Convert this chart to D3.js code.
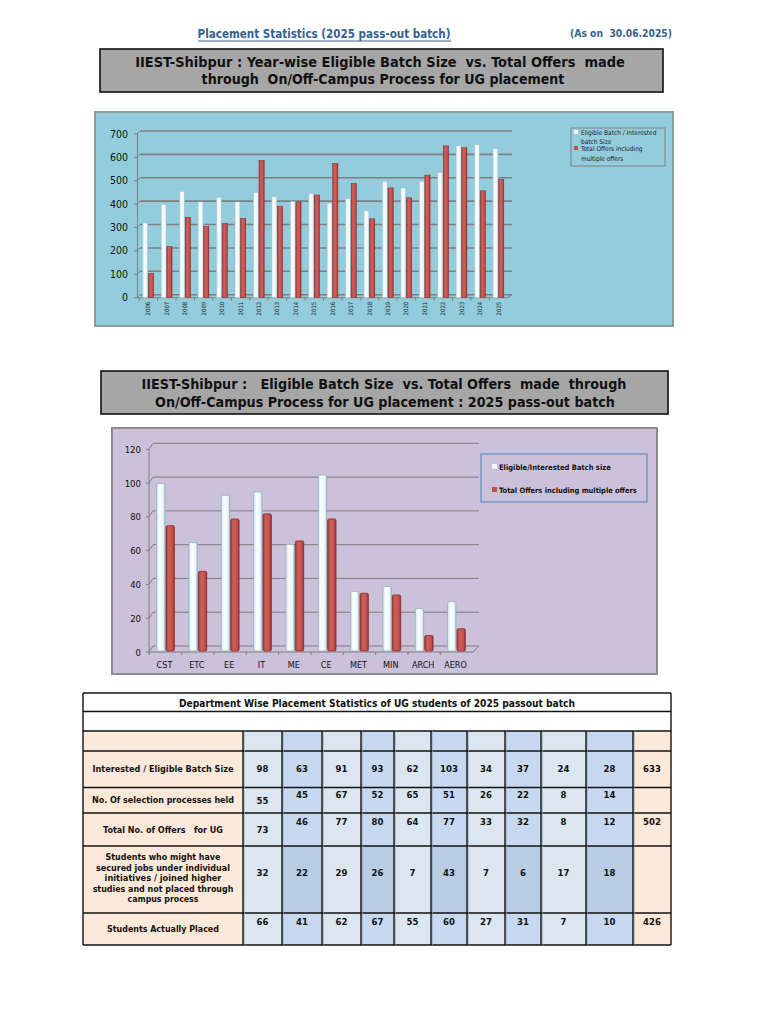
<!DOCTYPE html>
<html><head><meta charset="utf-8">
<script src="https://cdn.jsdelivr.net/npm/d3@7"></script>
<style>html,body{margin:0;padding:0;background:#fff;} text{white-space:pre;}</style>
</head><body>
<svg id="c" width="768" height="1024"></svg>
<script>
// ---------------- DATA ----------------
const years = ["2006","2007","2008","2009","2010","2011","2012","2013","2014","2015","2016","2017","2018","2019","2020","2021","2022","2023","2024","2025"];
const batchSizeByYear = [315,395,450,405,425,405,445,427,407,442,400,420,368,493,465,493,530,645,650,633];
const offersByYear    = [100,215,340,300,313,335,583,387,405,435,570,485,333,465,423,520,645,637,453,502];
const yearTicks = [0,100,200,300,400,500,600,700];

const departments = ["CST","ETC","EE","IT","ME","CE","MET","MIN","ARCH","AERO"];
const batchSize = [98,63,91,93,62,103,34,37,24,28];
const selectionProcesses = [55,45,67,52,65,51,26,22,8,14];
const totalOffers = [73,46,77,80,64,77,33,32,8,12];
const individualInitiatives = [32,22,29,26,7,43,7,6,17,18];
const actuallyPlaced = [66,41,62,67,55,60,27,31,7,10];
const rowTotals = [633, null, 502, null, 426];
const deptTicks = [0,20,40,60,80,100,120];

const rowLabels = [
  ["Interested / Eligible Batch Size"],
  ["No. Of selection processes held"],
  ["Total No. of Offers   for UG"],
  ["Students who might have","secured jobs under individual","initiatives / joined higher","studies and not placed through","campus process"],
  ["Students Actually Placed"]
];
const rowValues = [batchSize, selectionProcesses, totalOffers, individualInitiatives, actuallyPlaced];

// ---------------- HELPERS ----------------
const FONT = "Tahoma, 'DejaVu Sans Condensed', 'DejaVu Sans', sans-serif";
const svg = d3.select("#c");
function fit(sel, w){
  const L = sel.node().getComputedTextLength();
  const fs = parseFloat(sel.attr("font-size"));
  if (L>0) sel.attr("font-size", (fs*w/L).toFixed(2));
  return sel;
}
function txt(g, s, x, y, fs, opts={}){
  const t = g.append("text").attr("x",x).attr("y",y).attr("font-size",fs)
    .attr("font-family", opts.family||FONT)
    .attr("font-weight", opts.weight||"bold")
    .attr("fill", opts.fill||"#111")
    .attr("text-anchor", opts.anchor||"middle").text(s);
  if (opts.w) fit(t, opts.w);
  return t;
}
const defs = svg.append("defs");
function grad(id, stops){
  const g = defs.append("linearGradient").attr("id",id).attr("x1","0").attr("x2","1").attr("y1","0").attr("y2","0");
  stops.forEach(([o,c])=>g.append("stop").attr("offset",o).attr("stop-color",c));
}
grad("gW", [[0,"#cfe6ec"],[0.35,"#ffffff"],[0.8,"#e6f6fa"],[1,"#a9cdd5"]]);
grad("gR", [[0,"#a33a37"],[0.35,"#d0605c"],[0.8,"#c0504d"],[1,"#8a2b29"]]);

// ---------------- HEADER ----------------
txt(svg, "Placement Statistics (2025 pass-out batch)", 324, 38, 13, {fill:"#365f91", w:253});
svg.append("line").attr("x1",198).attr("x2",451).attr("y1",41).attr("y2",41).attr("stroke","#365f91").attr("stroke-width",1);
txt(svg, "(As on  30.06.2025)", 621, 37, 10, {fill:"#365f91", w:102});

function headerBox(x, y, w, h, lines){
  svg.append("rect").attr("x",x).attr("y",y).attr("width",w).attr("height",h)
    .attr("fill","#a6a6a6").attr("stroke","#111").attr("stroke-width",1.6);
  lines.forEach(l => txt(svg, l.s, l.cx, l.y, 14, {w:l.w}));
}
headerBox(100, 49, 563, 43, [
  {s:"IIEST-Shibpur : Year-wise Eligible Batch Size  vs. Total Offers  made", cx:380, y:67, w:490},
  {s:"through  On/Off-Campus Process for UG placement", cx:383, y:84, w:363}
]);
headerBox(101, 371, 567, 43, [
  {s:"IIEST-Shibpur :   Eligible Batch Size  vs. Total Offers  made  through", cx:384, y:389, w:485},
  {s:"On/Off-Campus Process for UG placement : 2025 pass-out batch", cx:385, y:407, w:460}
]);

// ---------------- CHART 1 ----------------
(function(){
  const g = svg.append("g");
  g.append("rect").attr("x",95).attr("y",112).attr("width",578).attr("height",214)
    .attr("fill","#93cddd").attr("stroke","#8c9ca0").attr("stroke-width",2);
  const y = d3.scaleLinear().domain([0,700]).range([294.7,131]);
  const x = d3.scaleBand().domain(years).range([139,508]).paddingInner(0.38).paddingOuter(0.2);
  const depth = 3;
  g.selectAll(".gl").data(yearTicks).join("line")
    .attr("x1",140).attr("x2",512).attr("y1",d=>y(d)).attr("y2",d=>y(d))
    .attr("stroke","#7f7f7f").attr("stroke-width",1.6);
  g.selectAll(".dg").data(yearTicks).join("line")
    .attr("x1",137).attr("x2",140).attr("y1",d=>y(d)+depth).attr("y2",d=>y(d))
    .attr("stroke","#7f7f7f").attr("stroke-width",1);
  g.append("line").attr("x1",137.5).attr("x2",137.5).attr("y1",y(700)+depth).attr("y2",y(0)+depth).attr("stroke","#7f7f7f");
  g.selectAll(".yt").data(yearTicks).join("line")
    .attr("x1",134).attr("x2",137.5).attr("y1",d=>y(d)+depth).attr("y2",d=>y(d)+depth).attr("stroke","#7f7f7f");
  g.selectAll(".yl").data(yearTicks).join("text")
    .attr("x",128).attr("y",d=>y(d)+depth+3.5).attr("text-anchor","end")
    .attr("font-family",FONT).attr("font-size",10.5).attr("fill","#111").text(d=>d);
  g.append("line").attr("x1",137.5).attr("x2",508).attr("y1",y(0)+depth).attr("y2",y(0)+depth).attr("stroke","#7f7f7f");
  g.append("line").attr("x1",508).attr("x2",512).attr("y1",y(0)+depth).attr("y2",y(0)).attr("stroke","#7f7f7f");
  g.selectAll(".xt").data(years).join("line")
    .attr("x1",d=>x(d)-x.step()*x.paddingInner()/2).attr("x2",d=>x(d)-x.step()*x.paddingInner()/2)
    .attr("y1",y(0)+depth).attr("y2",y(0)+depth+3).attr("stroke","#7f7f7f");
  g.selectAll(".xl").data(years).join("text")
    .attr("transform",d=>`translate(${x(d)+x.bandwidth()/2+2},${y(0)+7}) rotate(-90)`)
    .attr("text-anchor","end").attr("font-family",FONT).attr("font-size",6).attr("fill","#222").text(d=>d);
  const bw = x.bandwidth()/2;
  const bars = [
    {vals:batchSizeByYear, off:0, fill:"url(#gW)", stroke:"#9cc0c8"},
    {vals:offersByYear, off:bw, fill:"url(#gR)", stroke:"#8a2b29"}
  ];
  bars.forEach(s=>{
    g.selectAll(null).data(years).join("rect")
      .attr("x",(d,i)=>x(d)+s.off).attr("y",(d,i)=>y(s.vals[i])+2)
      .attr("width",bw-0.5).attr("height",(d,i)=>y(0)+depth-2-y(s.vals[i]))
      .attr("fill",s.fill).attr("stroke",s.stroke).attr("stroke-width",0.5);
  });
  const lg = g.append("g");
  lg.append("rect").attr("x",571).attr("y",128).attr("width",94).attr("height",38)
    .attr("fill","#93cddd").attr("stroke","#808080").attr("stroke-width",1);
  lg.append("rect").attr("x",574).attr("y",130).attr("width",4).attr("height",4).attr("fill","#ffffff");
  lg.append("rect").attr("x",574).attr("y",146).attr("width",4).attr("height",4).attr("fill","#c0504d");
  const lt = [["Eligible Batch / Interested",135],["batch Size",144],["Total Offers including",151],["multiple offers",161]];
  lt.forEach(([s,yy])=>g.append("text").attr("x",581).attr("y",yy).attr("font-family",FONT)
    .attr("font-size",6.5).attr("fill","#222").text(s));
})();

// ---------------- CHART 2 ----------------
(function(){
  const g = svg.append("g");
  g.append("rect").attr("x",112).attr("y",428).attr("width",545).attr("height",246)
    .attr("fill","#ccc1da").attr("stroke","#8c8c8c").attr("stroke-width",2);
  const y = d3.scaleLinear().domain([0,120]).range([646,443.3]);
  const x = d3.scaleBand().domain(departments).range([149,473]).paddingInner(0.42).paddingOuter(0.22);
  const depth = 6;
  g.selectAll(".gl").data(deptTicks).join("line")
    .attr("x1",153).attr("x2",479).attr("y1",d=>y(d)).attr("y2",d=>y(d))
    .attr("stroke","#7f7f7f").attr("stroke-width",1);
  g.selectAll(".dg").data(deptTicks).join("line")
    .attr("x1",149).attr("x2",153).attr("y1",d=>y(d)+depth).attr("y2",d=>y(d))
    .attr("stroke","#7f7f7f").attr("stroke-width",1);
  g.append("line").attr("x1",149).attr("x2",149).attr("y1",y(120)+depth).attr("y2",y(0)+depth).attr("stroke","#7f7f7f");
  g.selectAll(".yt").data(deptTicks).join("line")
    .attr("x1",146).attr("x2",149).attr("y1",d=>y(d)+depth).attr("y2",d=>y(d)+depth).attr("stroke","#7f7f7f");
  g.selectAll(".yl").data(deptTicks).join("text")
    .attr("x",141).attr("y",d=>y(d)+depth+3.5).attr("text-anchor","end")
    .attr("font-family",FONT).attr("font-size",9.5).attr("fill","#111").text(d=>d);
  g.append("line").attr("x1",149).attr("x2",473).attr("y1",y(0)+depth).attr("y2",y(0)+depth).attr("stroke","#7f7f7f");
  g.append("line").attr("x1",473).attr("x2",479).attr("y1",y(0)+depth).attr("y2",y(0)).attr("stroke","#7f7f7f");
  const stepEdges = departments.map(d=>x(d)-x.step()*x.paddingInner()/2);
  g.selectAll(".xt").data(stepEdges).join("line")
    .attr("x1",d=>d).attr("x2",d=>d).attr("y1",y(0)+depth).attr("y2",y(0)+depth+3).attr("stroke","#7f7f7f");
  g.selectAll(".xl").data(departments).join("text")
    .attr("x",d=>x(d)+x.bandwidth()/2-1).attr("y",668).attr("text-anchor","middle")
    .attr("font-family",FONT).attr("font-size",9).attr("fill","#111").text(d=>d);
  const bw = x.bandwidth()/2;
  const bars = [
    {vals:batchSize, off:0, fill:"url(#gW)", stroke:"#8fb4bb"},
    {vals:totalOffers, off:bw, fill:"url(#gR)", stroke:"#8a2b29"}
  ];
  bars.forEach(s=>{
    g.selectAll(null).data(departments).join("rect")
      .attr("x",(d,i)=>x(d)+s.off+0.5).attr("y",(d,i)=>y(s.vals[i])+3)
      .attr("width",bw-1).attr("height",(d,i)=>y(0)+depth-4-y(s.vals[i]))
      .attr("rx",1.5)
      .attr("fill",s.fill).attr("stroke",s.stroke).attr("stroke-width",0.8);
  });
  const lg = g.append("g");
  lg.append("rect").attr("x",481).attr("y",454).attr("width",166).attr("height",48)
    .attr("fill","#ccc1da").attr("stroke","#4f81bd").attr("stroke-width",1);
  lg.append("rect").attr("x",492).attr("y",464).attr("width",5).attr("height",5).attr("fill","#e8f6fa");
  lg.append("rect").attr("x",492).attr("y",487).attr("width",5).attr("height",5).attr("fill","#c0504d");
  txt(lg, "Eligible/Interested Batch size", 499, 469.5, 7.5, {anchor:"start", w:112});
  txt(lg, "Total Offers including multiple offers", 499, 492.5, 7.5, {anchor:"start", w:138});
})();

// ---------------- TABLE ----------------
(function(){
  const g = svg.append("g");
  const colEdges = [83,243,282,322,361,394,431,467,505,541,586,633,671];
  const rowEdges = [693,711.5,731,751,787.5,813,846,913,945];
  const light = "#dce6f1", mid = "#c6d9f1", dark = "#b8cce4", peach = "#fde9d9";
  const X0 = colEdges[0], X1 = colEdges[colEdges.length-1];
  g.append("rect").attr("x",X0).attr("y",rowEdges[0]).attr("width",X1-X0).attr("height",rowEdges[2]-rowEdges[0]).attr("fill","#fff");
  txt(g, "Department Wise Placement Statistics of UG students of 2025 passout batch", 377, 707, 9, {w:397});
  for (let r=0; r<6; r++){
    const y0 = rowEdges[r+2], y1 = rowEdges[r+3];
    for (let c=0; c<12; c++){
      let fill;
      if (c===0 || c===11) fill = peach;
      else {
        const di = c-1;
        if (di%2===0) fill = light;
        else fill = (r===4) ? dark : mid;
      }
      g.append("rect").attr("x",colEdges[c]).attr("y",y0).attr("width",colEdges[c+1]-colEdges[c]).attr("height",y1-y0).attr("fill",fill);
    }
  }
  const bl = "#111";
  rowEdges.forEach(yy=>g.append("line").attr("x1",X0).attr("x2",X1).attr("y1",yy).attr("y2",yy).attr("stroke",bl).attr("stroke-width",1.4));
  colEdges.forEach((xx,i)=>{
    const top = (i===0||i===colEdges.length-1) ? rowEdges[0] : rowEdges[2];
    g.append("line").attr("x1",xx).attr("x2",xx).attr("y1",top).attr("y2",rowEdges[rowEdges.length-1]).attr("stroke",bl).attr("stroke-width",1.4);
    if (i>0 && i<colEdges.length-1)
      g.append("line").attr("x1",xx+1.5).attr("x2",xx+1.5).attr("y1",top).attr("y2",rowEdges[rowEdges.length-1]).attr("stroke","#9aa4b0").attr("stroke-width",0.6);
  });
  const labelCx = (colEdges[0]+colEdges[1])/2;
  const labelBase = [[772],[803],[833],[860,870.5,881,891.5,902],[932]];
  const labelW = [[141],[142],[120],[115,134,117,141,71],[112]];
  rowLabels.forEach((lines,r)=>{
    lines.forEach((s,k)=> txt(g, s, labelCx, labelBase[r][k], 9, {w:labelW[r][k]}));
  });
  const valBase = [[772,772],[804,798],[833,825],[876,876],[925,925]];
  rowValues.forEach((vals,r)=>{
    vals.forEach((v,i)=>{
      const cx = (colEdges[i+1]+colEdges[i+2])/2;
      const yy = i===0 ? valBase[r][0] : valBase[r][1];
      txt(g, String(v), cx, yy, 9.5, {});
    });
    if (rowTotals[r]!==null){
      const cx = (colEdges[11]+colEdges[12])/2;
      txt(g, String(rowTotals[r]), cx, r===2?825:(r===4?925:772), 9.5, {});
    }
  });
})();
</script>
</body></html>
